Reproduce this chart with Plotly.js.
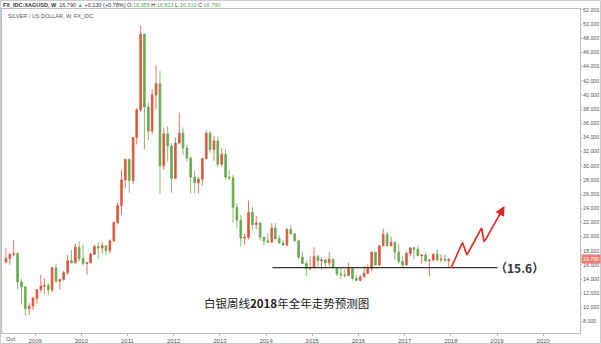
<!DOCTYPE html>
<html>
<head>
<meta charset="utf-8">
<script src="https://cdn.plot.ly/plotly-3.0.1.min.js"></script>
<style>html,body{margin:0;padding:0;background:#fff;}#chart{width:601px;height:344px;}</style>
</head>
<body>
<div id="chart"></div>
<script>
// Monthly silver (XAG/USD) OHLC
const months = [
 '2008-05','2008-06','2008-07','2008-08','2008-09','2008-10','2008-11','2008-12',
 '2009-01','2009-02','2009-03','2009-04','2009-05','2009-06','2009-07','2009-08','2009-09','2009-10','2009-11','2009-12',
 '2010-01','2010-02','2010-03','2010-04','2010-05','2010-06','2010-07','2010-08','2010-09','2010-10','2010-11','2010-12',
 '2011-01','2011-02','2011-03','2011-04','2011-05','2011-06','2011-07','2011-08','2011-09','2011-10','2011-11','2011-12',
 '2012-01','2012-02','2012-03','2012-04','2012-05','2012-06','2012-07','2012-08','2012-09','2012-10','2012-11','2012-12',
 '2013-01','2013-02','2013-03','2013-04','2013-05','2013-06','2013-07','2013-08','2013-09','2013-10','2013-11','2013-12',
 '2014-01','2014-02','2014-03','2014-04','2014-05','2014-06','2014-07','2014-08','2014-09','2014-10','2014-11','2014-12',
 '2015-01','2015-02','2015-03','2015-04','2015-05','2015-06','2015-07','2015-08','2015-09','2015-10','2015-11','2015-12',
 '2016-01','2016-02','2016-03','2016-04','2016-05','2016-06','2016-07','2016-08','2016-09','2016-10','2016-11','2016-12',
 '2017-01','2017-02','2017-03','2017-04','2017-05','2017-06','2017-07','2017-08','2017-09','2017-10','2017-11','2017-12'
];
const openVals = [
 16.4,16.9,17.5,17.6,13.6,12.9,9.8,10.2,
 11.3,12.5,13.0,13.1,12.5,15.6,13.7,13.9,14.9,16.6,16.3,18.5,
 16.9,16.2,16.3,17.5,18.6,18.4,18.7,18.0,19.4,22.0,24.4,28.0,
 30.9,27.9,34.0,37.9,48.6,38.3,34.9,40.0,41.6,30.0,34.5,32.8,
 28.2,33.2,34.6,32.5,31.1,28.4,27.6,28.1,31.0,34.6,32.3,33.5,
 30.2,31.6,28.4,28.3,24.1,22.3,19.8,19.9,23.4,21.7,21.9,19.9,
 19.4,19.2,21.2,19.7,19.1,18.8,21.0,20.4,19.4,17.1,16.2,15.5,
 15.6,17.2,16.6,16.7,16.3,16.8,15.6,14.7,14.6,14.5,15.5,14.1,
 13.8,14.3,14.8,15.5,17.8,16.0,18.7,20.3,18.7,19.2,17.8,16.5,
 16.0,17.6,18.4,18.2,17.3,17.4,16.6,16.7,17.5,16.7,16.8,16.6
];
const highVals = [
 18.4,17.6,19.5,17.7,14.0,13.0,10.6,11.5,
 12.6,14.6,14.1,13.4,15.7,16.2,14.1,15.2,17.4,18.1,19.0,19.3,
 18.8,16.4,17.8,18.8,19.2,19.2,18.7,19.6,22.1,24.8,29.4,31.0,
 31.0,34.0,38.2,49.8,48.6,39.0,40.8,44.2,43.4,35.4,35.6,33.2,
 34.0,37.5,35.4,33.0,31.3,29.3,28.4,31.0,35.0,34.9,34.2,34.1,
 32.5,32.4,29.4,28.7,24.7,23.0,20.4,25.1,24.2,22.9,22.0,20.0,
 20.5,21.9,21.9,20.2,19.5,21.2,21.6,20.4,19.6,17.8,16.6,17.3,
 18.5,17.4,17.1,16.9,17.8,16.9,15.7,15.6,15.4,16.3,15.6,14.6,
 14.6,15.9,16.1,17.9,17.8,18.8,21.1,20.7,20.0,19.3,18.9,17.2,
 17.9,18.5,18.6,18.7,17.5,17.7,16.8,17.6,18.2,17.5,17.5,17.0
];
const lowVals = [
 16.2,16.0,17.2,12.5,10.4,8.8,8.9,9.6,
 10.5,12.1,11.9,11.7,12.1,13.4,12.5,13.8,14.6,16.2,16.2,16.5,
 15.9,14.6,16.2,17.4,16.8,17.6,17.4,17.6,19.2,21.7,23.0,26.8,
 26.2,27.4,33.0,37.6,32.3,33.6,34.5,38.0,26.0,29.4,30.6,26.2,
 28.1,33.0,31.5,30.6,26.1,26.1,26.1,27.2,30.9,31.8,30.7,29.8,
 29.9,28.0,28.0,22.0,21.2,18.6,18.8,19.6,20.9,21.0,19.5,18.8,
 19.1,19.2,19.6,19.0,18.7,18.6,20.2,19.3,16.8,16.1,14.4,15.2,
 15.6,15.8,15.3,15.6,15.8,15.6,14.4,14.0,14.2,14.4,13.9,13.7,
 13.7,14.3,14.8,15.1,15.9,15.9,18.7,18.6,18.6,16.7,16.2,15.6,
 15.9,17.2,16.8,17.2,16.2,16.4,14.4,16.5,16.5,16.4,16.5,15.6
];
const closeVals = [
 16.9,17.5,17.6,13.6,12.9,9.8,10.2,11.3,
 12.5,13.0,13.1,12.5,15.6,13.7,13.9,14.9,16.6,16.3,18.5,16.9,
 16.2,16.3,17.5,18.6,18.4,18.7,18.0,19.4,22.0,24.4,28.0,30.9,
 27.9,34.0,37.9,48.6,38.3,34.9,40.0,41.6,30.0,34.5,32.8,28.2,
 33.2,34.6,32.5,31.1,28.4,27.6,28.1,31.0,34.6,32.3,33.5,30.2,
 31.6,28.4,28.3,24.1,22.3,19.8,19.9,23.4,21.7,21.9,19.9,19.4,
 19.2,21.2,19.7,19.1,18.8,21.0,20.4,19.4,17.1,16.2,15.5,15.6,
 17.2,16.6,16.7,16.3,16.8,15.6,14.7,14.6,14.5,15.5,14.1,13.8,
 14.3,14.8,15.5,17.8,16.0,18.7,20.3,18.7,19.2,17.8,16.5,16.0,
 17.6,18.4,18.2,17.3,17.4,16.6,16.7,17.5,16.7,16.8,16.6,16.79
];
// Support level and hand-drawn forecast path
const supportLevel = 15.6;
const supportDates = ['2014-02-20','2019-01-05'];
const forecastDates = ['2018-01-02','2018-04-03','2018-05-08','2018-09-01','2018-09-21','2019-03-01'];
const forecastVals = [15.56,19.16,17.40,21.21,19.23,24.32];
const yearTicks = ['2009','2010','2011','2012','2013','2014','2015','2016','2017','2018','2019','2020'];
const lastPrice = 16.79;

const UP = '#e0553c', DOWN = '#6aa84f';

const traces = [
 {
  type: 'candlestick',
  x: months.map(m => m + '-15'),
  open: openVals, high: highVals, low: lowVals, close: closeVals,
  increasing: {line: {color: UP, width: 0.8}, fillcolor: UP},
  decreasing: {line: {color: DOWN, width: 0.8}, fillcolor: DOWN},
  whiskerwidth: 0,
  hoverinfo: 'skip',
  showlegend: false
 },
 {
  type: 'scatter', mode: 'lines',
  x: supportDates, y: supportDates.map(() => supportLevel),
  line: {color: '#333333', width: 1.3},
  hoverinfo: 'skip', showlegend: false
 },
 {
  type: 'scatter', mode: 'lines',
  x: forecastDates.slice(0, -1), y: forecastVals.slice(0, -1),
  line: {color: '#e8231c', width: 1.6},
  hoverinfo: 'skip', showlegend: false
 }
];

const n = forecastDates.length;
const PL = 2, PR = 580, PT = 9, PB = 333;
const px = v => (v - PL) / (PR - PL);
const py = v => (PB - v) / (PB - PT);

const layout = {
 width: 601, height: 344,
 margin: {l: PL, r: 601 - PR, t: PT, b: 344 - PB, pad: 0},
 paper_bgcolor: '#ffffff', plot_bgcolor: '#ffffff',
 showlegend: false,
 hovermode: false,
 font: {family: 'Liberation Sans, Arial, sans-serif', size: 6, color: '#555'},
 xaxis: {
  type: 'date',
  range: ['2008-04-14', '2020-10-18'],
  rangeslider: {visible: false},
  tickvals: yearTicks.map(y => y + '-01-01'),
  ticktext: yearTicks,
  ticks: 'outside', ticklen: 2, tickcolor: '#b0b6bc',
  tickfont: {size: 6, color: '#555'},
  showgrid: false, zeroline: false,
  showline: true, mirror: true, linecolor: '#b8bec4', linewidth: 1,
  fixedrange: true
 },
 yaxis: {
  side: 'right',
  range: [6.38, 52.14],
  tick0: 0, dtick: 2,
  tickformat: '.3f',
  ticks: 'outside', ticklen: 1, tickcolor: '#b0b6bc',
  tickfont: {size: 5.3, color: '#555'},
  showgrid: false, zeroline: false,
  showline: true, mirror: true, linecolor: '#b8bec4', linewidth: 1,
  fixedrange: true
 },
 shapes: [
  {type: 'rect', xref: 'paper', yref: 'paper',
   x0: px(0.5), x1: px(600.5), y0: py(343.5), y1: py(0.5),
   line: {color: '#c8cdd2', width: 1}, fillcolor: 'rgba(0,0,0,0)', layer: 'below'}
 ],
 annotations: [
  {xref: 'paper', yref: 'paper', x: px(1), y: py(4.5), xanchor: 'left', yanchor: 'middle', showarrow: false,
   font: {size: 5.5, color: '#333'},
   text: '<b>FX_IDC:XAGUSD, W</b>  16.790 <span style="color:#4caf50">▲</span> +0.130 (+0.78%) O:<span style="color:#4caf50">16.359</span> H:<span style="color:#4caf50">16.813</span> L:<span style="color:#4caf50">16.310</span> C:<span style="color:#4caf50">16.790</span>'},
  {xref: 'paper', yref: 'paper', x: px(6), y: py(16), xanchor: 'left', yanchor: 'middle', showarrow: false,
   font: {size: 5.5, color: '#555'}, text: 'SILVER / US DOLLAR, W, FX_IDC'},
  {xref: 'paper', yref: 'paper', x: px(4), y: py(338.5), xanchor: 'left', yanchor: 'middle', showarrow: false,
   font: {size: 6, color: '#555'}, text: 'Oct'},
  {xref: 'paper', yref: 'y', x: 1, y: lastPrice, xanchor: 'left', yanchor: 'middle', xshift: 1, showarrow: false,
   bgcolor: '#ef7d6e', borderpad: 1, font: {size: 5.3, color: '#ffffff'}, text: lastPrice.toFixed(3)},
  {xref: 'x', yref: 'y', x: forecastDates[n - 1], y: forecastVals[n - 1],
   axref: 'x', ayref: 'y', ax: forecastDates[n - 2], ay: forecastVals[n - 2],
   showarrow: true, arrowhead: 2, arrowsize: 1.2, arrowwidth: 1.6, arrowcolor: '#e8231c', text: ''},
  {xref: 'x', yref: 'y', x: supportDates[1], y: supportLevel, xanchor: 'left', yanchor: 'middle', xshift: -5, showarrow: false,
   font: {family: 'Noto Sans CJK SC, Liberation Sans, sans-serif', size: 12, color: '#333'},
   text: '<b>（15.6）</b>'},
  {xref: 'paper', yref: 'paper', x: px(286), y: py(303), xanchor: 'center', yanchor: 'middle', showarrow: false,
   font: {family: 'Noto Sans CJK SC, sans-serif', size: 11.5, color: '#222'},
   text: '白银周线<b>2018</b>年全年走势预测图'}
 ]
};

Plotly.newPlot('chart', traces, layout, {staticPlot: true, displayModeBar: false});
</script>
</body>
</html>
